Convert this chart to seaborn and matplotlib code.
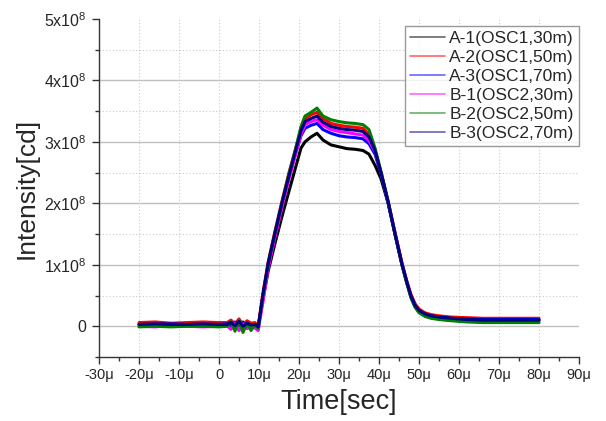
#!/usr/bin/env python3
"""
Intensity vs time for six oscilloscope captures (OSC1/OSC2 at 30/50/70 m)
"""

import pandas as pd
import matplotlib
matplotlib.use('Agg')
import matplotlib.pyplot as plt
import seaborn as sns
from matplotlib.ticker import MultipleLocator, FuncFormatter

# time in microseconds, intensity in units of 1e8 cd
time_us = [-20, -16, -12, -8, -4, 0, 2, 3, 4, 5, 6, 7, 8, 9, 9.8,
           11, 12.3, 14, 15.8, 17.5, 19, 20.5,
           21.5, 23, 24.5, 26, 28, 30, 32, 34, 36, 37.5,
           39, 40.5, 42.3, 44, 45.75, 47, 48, 49, 50,
           51.5, 53, 55, 58, 62, 66, 70, 75, 80]

a1_osc1_30m = [0.03, 0.04, 0.02, 0.03, 0.04, 0.03,
               0.03, 0.05, 0.06, 0.01, 0.07, 0.02, 0.04, 0.01, -0.02,
               0.45, 0.9, 1.35, 1.8, 2.2, 2.55, 2.9,
               3.0, 3.08, 3.14, 3.03, 2.95, 2.92, 2.89, 2.88, 2.86, 2.8,
               2.62, 2.4, 2.0, 1.5, 1.0, 0.7, 0.48, 0.33, 0.25,
               0.19, 0.16, 0.14, 0.12, 0.11, 0.1, 0.1, 0.1, 0.1]
a2_osc1_50m = [0.06, 0.07, 0.05, 0.06, 0.07, 0.06,
               0.06, 0.1, 0.03, 0.12, 0.02, 0.09, 0.05, 0.06, 0.0,
               0.55, 1.05, 1.55, 2.05, 2.5, 2.85, 3.2,
               3.38, 3.44, 3.48, 3.38, 3.3, 3.27, 3.25, 3.24, 3.22, 3.12,
               2.85, 2.5, 2.02, 1.52, 1.03, 0.73, 0.52, 0.37, 0.28,
               0.22, 0.19, 0.17, 0.15, 0.14, 0.13, 0.13, 0.13, 0.13]
a3_osc1_70m = [0.03, 0.03, 0.04, 0.03, 0.02, 0.03,
               0.04, 0.0, 0.07, 0.02, 0.05, 0.0, 0.03, 0.02, -0.02,
               0.5, 1.0, 1.5, 2.0, 2.42, 2.78, 3.1,
               3.22, 3.27, 3.30, 3.2, 3.14, 3.1, 3.08, 3.07, 3.05, 2.97,
               2.8, 2.48, 2.0, 1.5, 1.0, 0.7, 0.49, 0.34, 0.26,
               0.2, 0.17, 0.15, 0.13, 0.12, 0.11, 0.11, 0.11, 0.11]
b1_osc2_30m = [0.0, -0.01, 0.01, 0.0, -0.01, 0.0,
               0.01, -0.05, 0.05, -0.07, 0.04, -0.04, 0.0, -0.03, -0.07,
               0.4, 0.95, 1.45, 1.95, 2.4, 2.76, 3.12,
               3.28, 3.33, 3.36, 3.27, 3.2, 3.17, 3.15, 3.13, 3.11, 3.02,
               2.84, 2.5, 2.03, 1.53, 1.02, 0.7, 0.47, 0.32, 0.23,
               0.17, 0.14, 0.12, 0.1, 0.08, 0.07, 0.07, 0.07, 0.07]
b2_osc2_50m = [-0.01, 0.0, -0.01, 0.0, 0.0, -0.01,
               0.0, 0.08, -0.08, 0.1, -0.1, 0.06, -0.07, 0.03, -0.04,
               0.5, 1.02, 1.52, 2.03, 2.48, 2.85, 3.25,
               3.42, 3.48, 3.55, 3.42, 3.36, 3.33, 3.31, 3.30, 3.28, 3.2,
               2.9, 2.52, 2.02, 1.5, 1.0, 0.69, 0.46, 0.31, 0.22,
               0.16, 0.13, 0.11, 0.09, 0.07, 0.06, 0.06, 0.06, 0.06]
b3_osc2_70m = [0.03, 0.04, 0.03, 0.03, 0.04, 0.03,
               0.03, 0.06, 0.01, 0.08, 0.0, 0.05, 0.02, 0.03, -0.01,
               0.52, 1.02, 1.52, 2.02, 2.45, 2.82, 3.18,
               3.33, 3.38, 3.42, 3.32, 3.25, 3.22, 3.2, 3.19, 3.17, 3.08,
               2.86, 2.5, 2.02, 1.51, 1.01, 0.71, 0.49, 0.34, 0.26,
               0.2, 0.17, 0.15, 0.13, 0.11, 0.1, 0.1, 0.1, 0.1]

series_names = ['A-1(OSC1,30m)', 'A-2(OSC1,50m)', 'A-3(OSC1,70m)',
                'B-1(OSC2,30m)', 'B-2(OSC2,50m)', 'B-3(OSC2,70m)']
series_values = [a1_osc1_30m, a2_osc1_50m, a3_osc1_70m,
                 b1_osc2_30m, b2_osc2_50m, b3_osc2_70m]
series_colors = ['#000000', '#ff0000', '#0000ff', '#ff00ff', '#008000', '#000080']


def main():
    frames = []
    for name, vals in zip(series_names, series_values):
        frames.append(pd.DataFrame({'time': time_us, 'intensity': vals, 'series': name}))
    df = pd.concat(frames, ignore_index=True)

    sns.set_style('white')
    plt.rcParams['font.family'] = ['Liberation Sans', 'DejaVu Sans']
    plt.rcParams['mathtext.fontset'] = 'custom'
    plt.rcParams['mathtext.rm'] = 'Liberation Sans'
    plt.rcParams['mathtext.it'] = 'Liberation Sans'

    fig = plt.figure(figsize=(6.06, 4.21), dpi=100)
    ax = fig.add_axes([0.1634, 0.152, 0.792, 0.803])

    sns.lineplot(data=df, x='time', y='intensity', hue='series',
                 hue_order=series_names, palette=series_colors,
                 linewidth=2.2, ax=ax, sort=False, estimator=None)

    ax.set_xlim(-30, 90)
    ax.set_ylim(-0.5, 5)
    ax.xaxis.set_major_locator(MultipleLocator(10))
    ax.xaxis.set_minor_locator(MultipleLocator(5))
    ax.yaxis.set_major_locator(MultipleLocator(1))
    ax.yaxis.set_minor_locator(MultipleLocator(0.5))

    ax.xaxis.set_major_formatter(FuncFormatter(
        lambda v, p: '0' if abs(v) < 1e-9 else f'{int(round(v))}\u03bc'))
    ax.yaxis.set_major_formatter(FuncFormatter(
        lambda v, p: '0' if abs(v) < 1e-9 else f'{int(round(v))}x10$^8$'))

    # grid: solid major horizontals, dotted minor horizontals and verticals
    for yv in [0, 1, 2, 3, 4]:
        ax.axhline(yv, color='#c0c0c0', linewidth=1, zorder=0)
    for yv in [0.5, 1.5, 2.5, 3.5, 4.5]:
        ax.axhline(yv, color='#c8c8c8', linewidth=0.8, linestyle=(0, (1, 2)), zorder=0)
    for xv in range(-20, 90, 10):
        ax.axvline(xv, color='#c8c8c8', linewidth=0.8, linestyle=(0, (1, 2)), zorder=0)

    for s in ['top', 'right']:
        ax.spines[s].set_visible(False)
    for s in ['left', 'bottom']:
        ax.spines[s].set_color('#333333')
        ax.spines[s].set_linewidth(1.0)

    ax.tick_params(which='major', direction='out', length=5, width=1,
                   color='#333333', labelsize=10.5, pad=3, left=True, bottom=True)
    ax.tick_params(which='minor', direction='out', length=3, width=1,
                   color='#333333', left=True, bottom=True)
    ax.tick_params(axis='y', which='major', labelsize=11.5, pad=4)

    ax.set_xlabel('Time[sec]', fontsize=19.5, labelpad=5)
    ax.set_ylabel('Intensity[cd]', fontsize=19, labelpad=4)

    leg = ax.legend(loc='upper right', bbox_to_anchor=(1.0, 0.98), fontsize=12.5,
                    frameon=True, fancybox=False, edgecolor='#808080',
                    handlelength=2.0, labelspacing=0.22, borderpad=0.3,
                    handletextpad=0.25, borderaxespad=0.0)
    leg.get_frame().set_linewidth(1.0)
    for h in leg.get_lines():
        h.set_linewidth(1.2)
        h.set_alpha(0.6)

    plt.savefig('out.png', dpi=100)


if __name__ == '__main__':
    main()
